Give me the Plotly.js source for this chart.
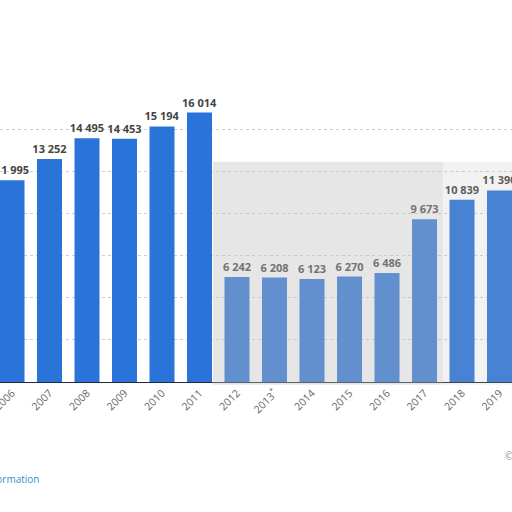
<!DOCTYPE html>
<html>
<head>
<meta charset="utf-8">
<script src="https://cdn.plot.ly/plotly-3.0.1.min.js"></script>
<style>
  html, body { margin: 0; padding: 0; background: #ffffff; }
  #chart { width: 512px; height: 512px; }
</style>
</head>
<body>
<div id="chart"></div>
<script>
var years = ['2006', '2007', '2008', '2009', '2010', '2011', '2012', '2013*',
             '2014', '2015', '2016', '2017', '2018', '2019'];
var yearLabels = ['2006', '2007', '2008', '2009', '2010', '2011', '2012', '2013<sup>*</sup>',
                  '2014', '2015', '2016', '2017', '2018', '2019'];
var values = [11995, 13252, 14495, 14453, 15194, 16014, 6242, 6208,
              6123, 6270, 6486, 9673, 10839, 11390];

var trace = {
    x: years,
    y: values,
    type: 'bar',
    marker: { color: '#2a74d9' },
    texttemplate: '%{y:,}',
    textposition: 'outside',
    cliponaxis: false,
    constraintext: 'none',
    textfont: { family: 'Open Sans', size: 11, color: '#454545', weight: 'bold' },
    hoverinfo: 'skip'
};

var layout = {
    width: 512,
    height: 512,
    margin: { l: 0, r: 0, t: 96, b: 130 },
    paper_bgcolor: '#ffffff',
    plot_bgcolor: '#ffffff',
    separators: ', ',
    showlegend: false,
    bargap: 0.333,
    font: { family: 'Open Sans', color: '#666666' },
    xaxis: {
        type: 'category',
        range: [-0.32, 13.333],
        tickvals: years,
        ticktext: yearLabels,
        tickangle: -45,
        tickfont: { size: 10.5, color: '#666666' },
        showline: true,
        linecolor: '#1f2a3a',
        linewidth: 1,
        ticks: '',
        showgrid: false,
        fixedrange: true
    },
    yaxis: {
        range: [0, 17000],
        dtick: 2500,
        showticklabels: false,
        showgrid: true,
        gridcolor: '#cfcfcf',
        griddash: 'dot',
        gridwidth: 1,
        zeroline: false,
        fixedrange: true
    },
    shapes: [
        {
            type: 'rect', layer: 'above',
            xref: 'paper', yref: 'paper',
            x0: 0.416, x1: 0.865, y0: -0.01, y1: 0.77,
            fillcolor: 'rgba(190,190,190,0.38)',
            line: { width: 0 }
        },
        {
            type: 'rect', layer: 'above',
            xref: 'paper', yref: 'paper',
            x0: 0.865, x1: 1, y0: -0.01, y1: 0.77,
            fillcolor: 'rgba(190,190,190,0.2)',
            line: { width: 0 }
        }
    ],
    annotations: [
        {
            xref: 'paper', yref: 'paper',
            x: 41 / 512, y: -0.339,
            xanchor: 'right', yanchor: 'middle',
            text: 'Additional Information',
            showarrow: false,
            font: { size: 10, color: '#3b8fc4' }
        },
        {
            xref: 'paper', yref: 'paper',
            x: 503 / 512, y: -0.258,
            xanchor: 'left', yanchor: 'middle',
            text: '© Statista 2021',
            showarrow: false,
            font: { size: 10, color: '#888888' }
        }
    ]
};

Plotly.newPlot('chart', [trace], layout, { displayModeBar: false, staticPlot: true });
</script>
</body>
</html>
